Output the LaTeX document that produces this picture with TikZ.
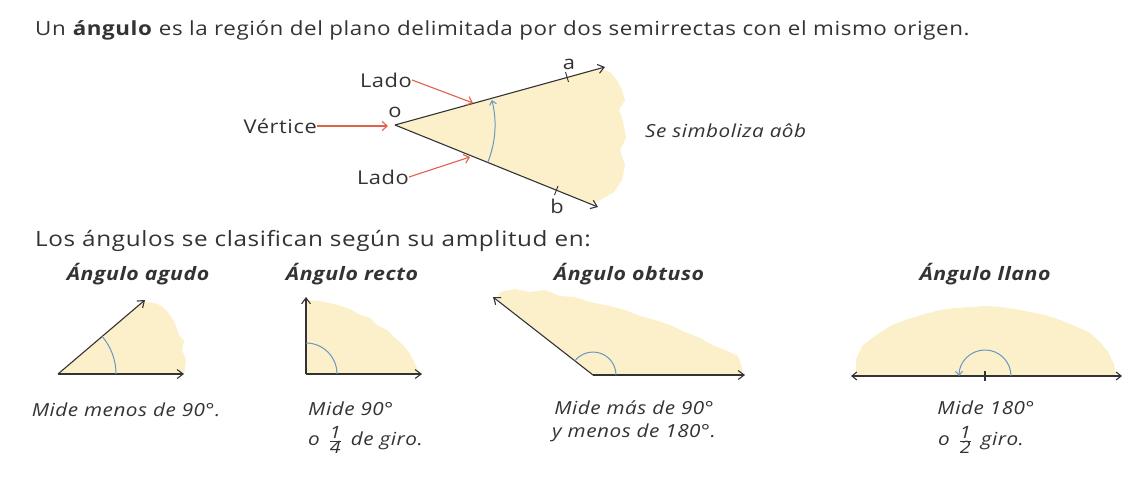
\documentclass[tikz,border=0pt]{standalone}
\usepackage{fontspec}
\setmainfont{Open Sans}
\newfontfamily\widefam[FakeStretch=1.15,LetterSpace=3]{Open Sans}
\usetikzlibrary{arrows.meta,calc}
\definecolor{fillY}{HTML}{FBF0CA}
\definecolor{redA}{HTML}{E0604A}
\definecolor{blueA}{HTML}{6A98BE}
\definecolor{inkC}{HTML}{333333}
\tikzset{
  ray/.style={draw=inkC,line width=1.1pt,-{Straight Barb[length=6pt,width=9pt,line width=1.1pt]}},
  ray2/.style={draw=inkC,line width=1.1pt,{Straight Barb[length=5pt,width=8pt,line width=1.1pt]}-{Straight Barb[length=5pt,width=8pt,line width=1.1pt]}},
  seg/.style={draw=inkC,line width=1.1pt},
  amp/.style={draw=blueA,line width=1pt},
  redarr/.style={draw=redA,line width=1.1pt,-{Straight Barb[length=5pt,width=9pt,line width=1.1pt]}},
  txt/.style={inner sep=0pt,text=inkC,font=\widefam\fontsize{19}{22}\selectfont},
  toptxt/.style={inner sep=0pt,text=inkC,font=\widefam\fontsize{19.45}{22}\selectfont},
  bigtxt/.style={inner sep=0pt,text=inkC,font=\widefam\fontsize{21.1}{24}\selectfont},
  captxt/.style={inner sep=0pt,text=inkC,font=\widefam\fontsize{18}{22}\selectfont\itshape,align=center},
  ttl/.style={inner sep=0pt,text=inkC,font=\widefam\fontsize{18.5}{22}\selectfont\bfseries\itshape}
}
\newcommand{\myfrac}[2]{\,$\frac{\hbox{\fontsize{17}{17}\selectfont #1}}{\hbox{\fontsize{17}{17}\selectfont #2}}$\,}
\begin{document}
\begin{tikzpicture}[x=1pt,y=1pt]
\useasboundingbox (0,0) rectangle (1133,-479);
\fill[white] (0,0) rectangle (1133,-479);
% top sentence
\node[toptxt,anchor=west] (t1) at (35,-30) {Un \textbf{ángulo} es la región del plano delimitada por dos semirrectas con el mismo origen.};
% main angle
\coordinate (o) at (395,-125);
\coordinate (A) at (605,-67);
\coordinate (B) at (598,-207);
\fill[fillY] (o) -- (598,-69) -- (610,-72) -- (617,-80) -- (622,-90) -- (625,-100) -- (619,-110) -- (623,-121) -- (626,-138) -- (620,-150) -- (625,-165) -- (622,-180) -- (614,-192) -- (600,-200) -- (590,-204) -- cycle;
\draw[ray] (o) -- (A);
\draw[ray] (o) -- (B);
\draw[amp,-{Straight Barb[length=4pt,width=7pt,line width=1pt]}] ($(o)+(-22:100)$) arc[start angle=-22,end angle=14.5,radius=100pt];
\draw[seg,line width=0.9pt] (565.5,-72) -- (568.5,-82);
\draw[seg,line width=0.9pt] (558,-186) -- (554.5,-195);
\node[txt] (la) at (569,-64) {a};
\node[txt] (lb) at (557,-206) {b};
\node[txt] (lo) at (395,-112) {o};
\node[txt,anchor=east] (lado1) at (412,-80) {Lado};
\node[txt,anchor=east] (vert) at (317,-126) {Vértice};
\node[txt,anchor=east] (lado2) at (409,-177) {Lado};
\coordinate (p1) at (473,-103);
\coordinate (p2) at (388,-126);
\coordinate (p3) at (470,-157);
\draw[redarr] (lado1.east) -- (p1);
\draw[redarr] (vert.east) -- (p2);
\draw[redarr] (lado2.east) -- (p3);
\node[captxt,anchor=west] (sym) at (645,-131) {Se simboliza aôb};
% classification
\node[bigtxt,anchor=west] (t2) at (35,-241) {Los ángulos se clasifican según su amplitud en:};
% agudo
\node[ttl] (h1) at (138,-274) {Ángulo agudo};
\coordinate (v1) at (58,-374);
\fill[fillY] (v1) -- (140,-303) -- (150,-302) -- (160,-305) -- (167,-311) -- (172,-318) -- (176,-326) -- (179,-335) -- (184,-341) -- (182,-350) -- (186,-360) -- (184,-374) -- cycle;
\draw[ray] (v1) -- (184,-374);
\draw[ray] (v1) -- (145,-300);
\draw[amp] ($(v1)+(0:58)$) arc[start angle=0,end angle=40.4,radius=58pt];
\node[captxt] (c1) at (126,-410) {Mide menos de 90°.};
% recto
\node[ttl] (h2) at (352,-274) {Ángulo recto};
\coordinate (v2) at (306,-374);
\fill[fillY] (v2) -- (306,-300) -- (320,-301) -- (338,-305) -- (350,-309) -- (358,-314) -- (370,-318) -- (377,-325) -- (387,-330) -- (394,-337) -- (403,-345) -- (409,-352) -- (413,-360) -- (417,-368) -- (419,-374) -- cycle;
\draw[ray] (v2) -- (422,-374);
\draw[ray] (v2) -- (306,-297);
\draw[amp] ($(v2)+(0:31)$) arc[start angle=0,end angle=90,radius=31pt];
\node[captxt,anchor=west] (c2a) at (308,-409) {Mide 90°};
\node[captxt,anchor=west] (c2b) at (308,-440) {o \myfrac{1}{4} de giro.};
% obtuso
\node[ttl] (h3) at (629,-274) {Ángulo obtuso};
\coordinate (v3) at (593,-375);
\fill[fillY] (v3) -- (497,-299) -- (500,-292) -- (515,-289) -- (530,-292) -- (545,-290) -- (560,-296) -- (575,-297) -- (590,-302) -- (610,-306) -- (625,-310) -- (640,-316) -- (655,-320) -- (670,-325) -- (685,-332) -- (700,-338) -- (712,-345) -- (725,-350) -- (738,-356) -- (742,-368) -- (742,-375) -- cycle;
\draw[ray] (v3) -- (745,-375);
\draw[ray] (v3) -- (493,-297);
\draw[amp] ($(v3)+(0:23)$) arc[start angle=0,end angle=142,radius=23pt];
\node[captxt] (c3a) at (634,-408) {Mide más de 90°};
\node[captxt] (c3b) at (634,-433) {y menos de 180°.};
% llano
\node[ttl] (h4) at (985,-274) {Ángulo llano};
\coordinate (v4) at (985,-376);
\fill[fillY] (856,-376) -- (856,-360) -- (862,-346) -- (875,-336) -- (890,-326) -- (908,-319) -- (925,-314) -- (940,-310) -- (955,-308) -- (970,-307) -- (985,-306) -- (1000,-307) -- (1015,-309) -- (1030,-312) -- (1045,-315) -- (1060,-320) -- (1075,-326) -- (1090,-333) -- (1100,-342) -- (1108,-352) -- (1114,-364) -- (1116,-376) -- cycle;
\coordinate (L) at (851,-376);
\coordinate (R) at (1122,-376);
\draw[ray2] (L) -- (R);
\draw[seg] (985,-371) -- (985,-381);
\draw[amp,-{Straight Barb[length=4pt,width=7pt,line width=1pt]}] ($(v4)+(0:26)$) arc[start angle=0,end angle=180,radius=26pt];
\node[captxt] (c4a) at (986,-408) {Mide 180°};
\node[captxt] (c4b) at (981,-440) {o \myfrac{1}{2} giro.};
\end{tikzpicture}
\end{document}
